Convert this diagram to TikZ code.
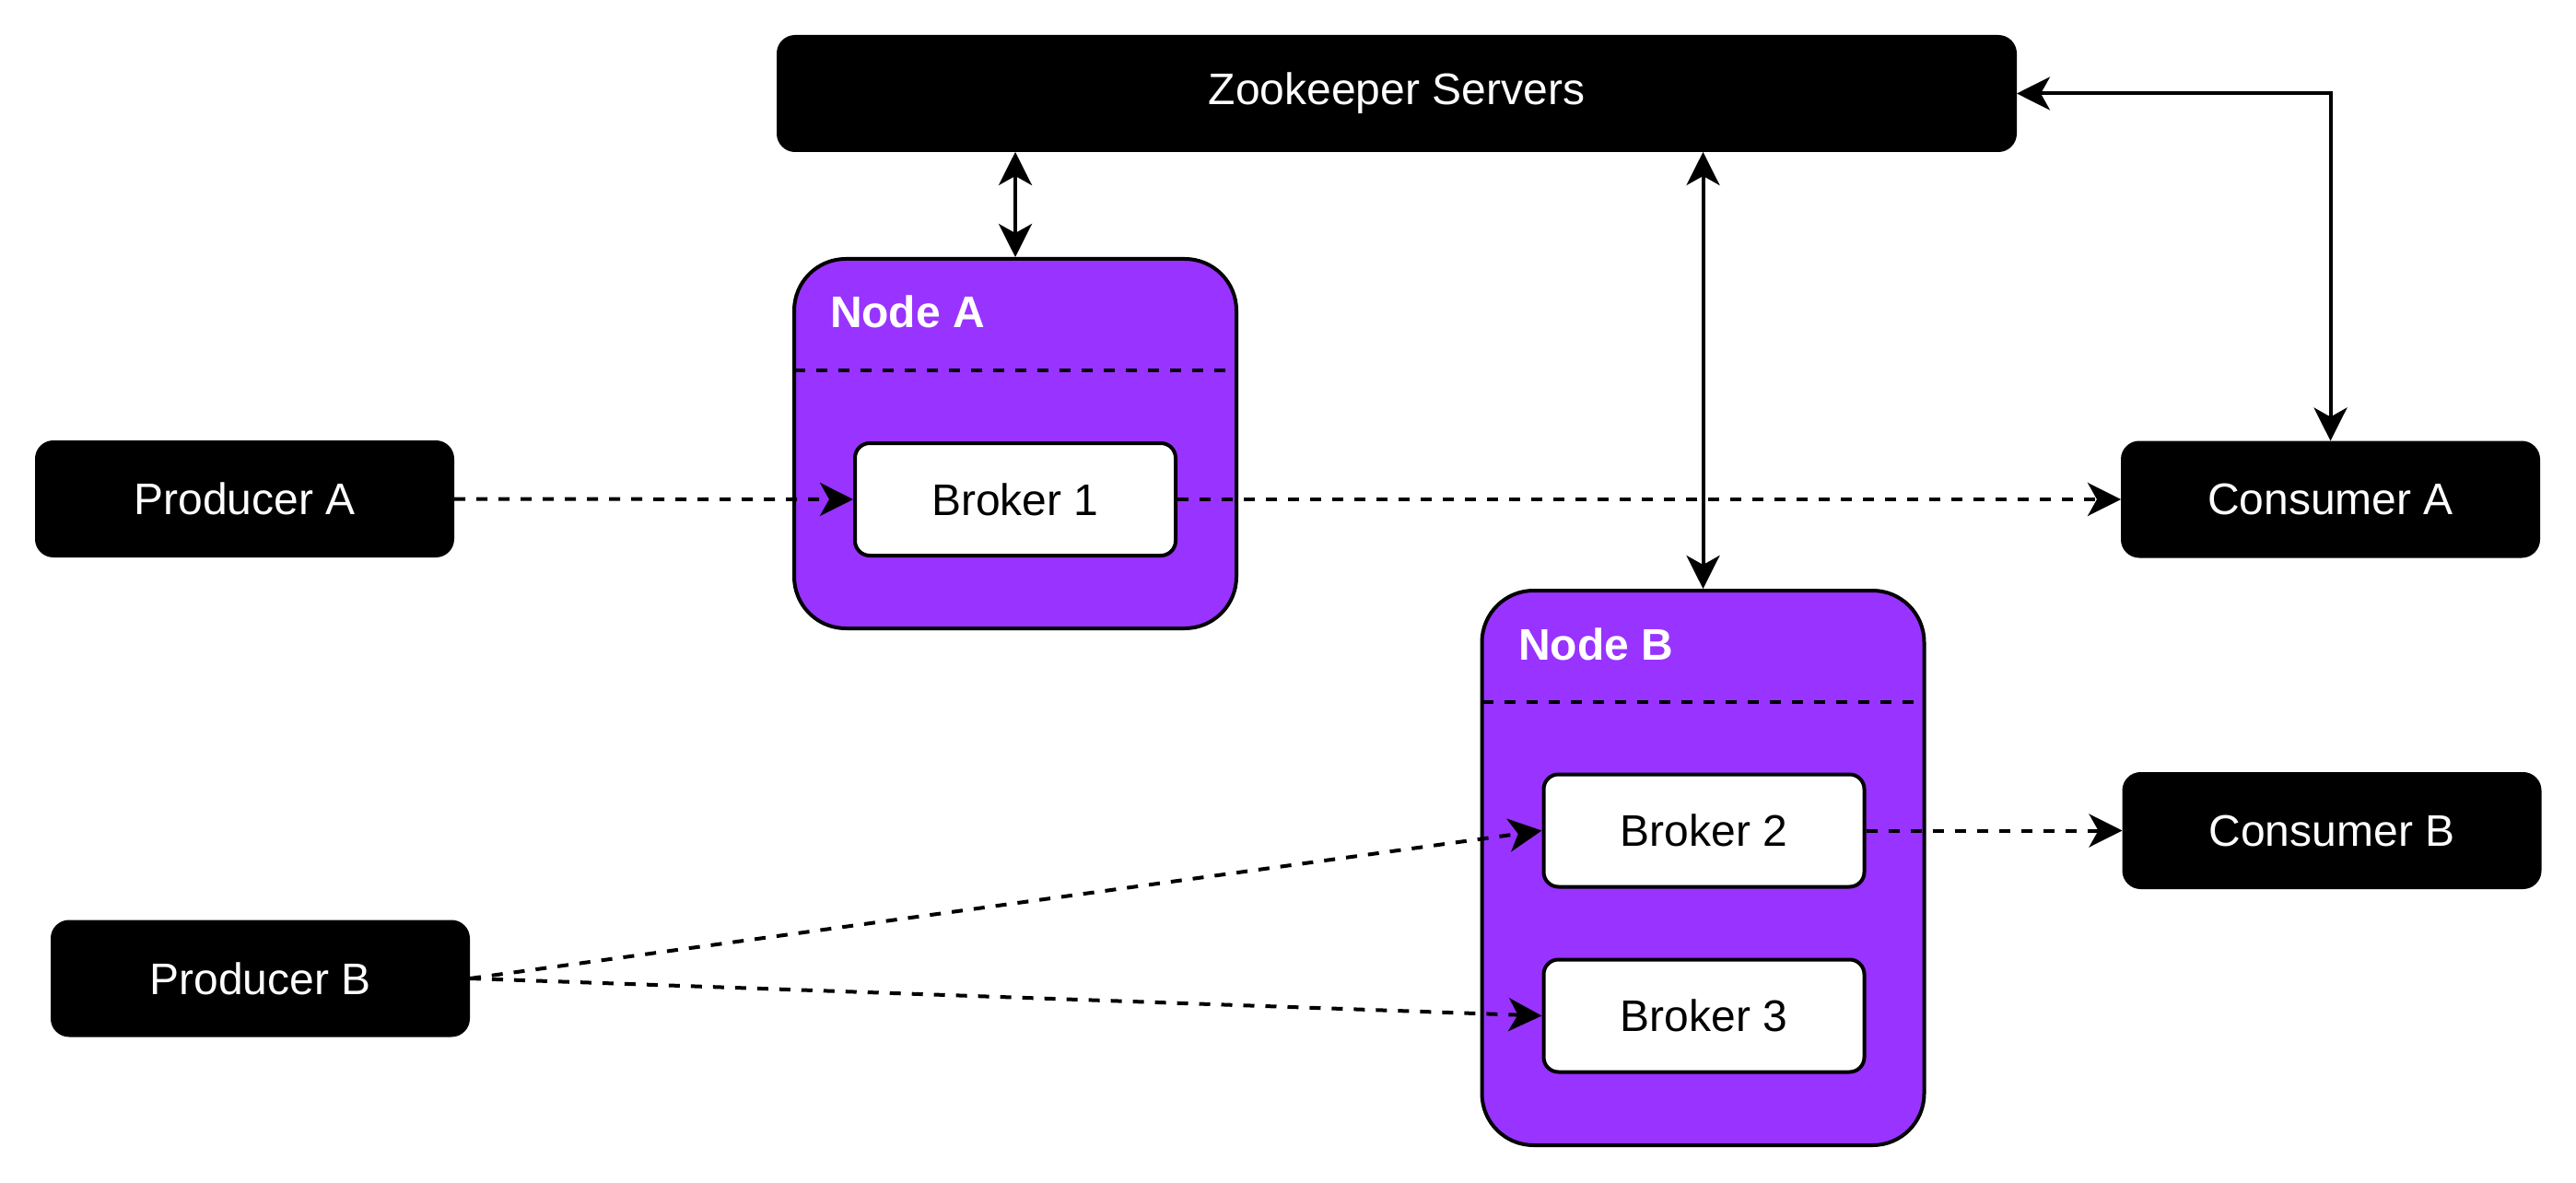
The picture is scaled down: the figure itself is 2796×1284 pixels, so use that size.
\documentclass[tikz,border=0pt]{standalone}
\usepackage{fontspec}
\setmainfont{Liberation Sans}
\usetikzlibrary{arrows.meta}
\begin{document}
\begin{tikzpicture}[x=0.25pt, y=-0.25pt, line width=1pt, font=\fontsize{12}{14}\selectfont,
  blackbox/.style={draw, fill=black, text=white, rounded corners=4.5pt, minimum width=112.75pt, minimum height=30.75pt},
  nodebox/.style={draw, fill=nodefill, rounded corners=14pt, minimum width=120pt},
  brokerbox/.style={draw, fill=white, rounded corners=4pt, minimum width=87pt, minimum height=30.5pt},
  title/.style={anchor=west, inner sep=0pt, text=white, font=\fontsize{12}{14}\selectfont\bfseries},
  flow/.style={dash pattern=on 3pt off 3pt, -{Stealth[length=9pt, width=9pt, inset=2.5pt]}},
  link/.style={{Stealth[length=9pt, width=9pt, inset=2.5pt]}-{Stealth[length=9pt, width=9pt, inset=2.5pt]}}]
\definecolor{nodefill}{HTML}{9933FF}
\useasboundingbox (0,0) rectangle (2796,1284);
\node[blackbox, minimum width=335.5pt] (zoo) at (1516,101.5) {Zookeeper Servers};
\node[blackbox] (prodA) at (265.5,541.5) {Producer A};
\node[blackbox] (prodB) at (282.5,1062) {Producer B};
\node[blackbox] (consA) at (2529.5,542) {Consumer A};
\node[blackbox] (consB) at (2531,901.5) {Consumer B};
\node[nodebox, minimum height=100.25pt] (nodeA) at (1102,481.5) {};
\node[nodebox, minimum height=150.5pt] (nodeB) at (1848.5,942) {};
\node[title] (titleA) at (899,338) {Node A};
\node[title] (titleB) at (1646,699) {Node B};
\draw[dash pattern=on 3pt off 3pt] (862,402) -- (1332,402);
\draw[dash pattern=on 3pt off 3pt] (1609,762) -- (2079,762);
\node[brokerbox] (broker1) at (1102,542) {Broker 1};
\foreach \n/\y in {2/901.5, 3/1102.5}
  \node[brokerbox] (broker\n) at (1849.5,\y) {Broker \n};
\draw[flow] (prodA.east) -- (broker1.west);
\draw[flow] (broker1.east) -- (consA.west);
\draw[flow] (prodB.east) -- (broker2.west);
\draw[flow] (prodB.east) -- (broker3.west);
\draw[flow] (broker2.east) -- (consB.west);
\draw[link] (zoo.south -| nodeA.north) -- (nodeA.north);
\draw[link] (zoo.south -| nodeB.north) -- (nodeB.north);
\draw[link] (zoo.east) -| (consA.north);
\end{tikzpicture}
\end{document}
